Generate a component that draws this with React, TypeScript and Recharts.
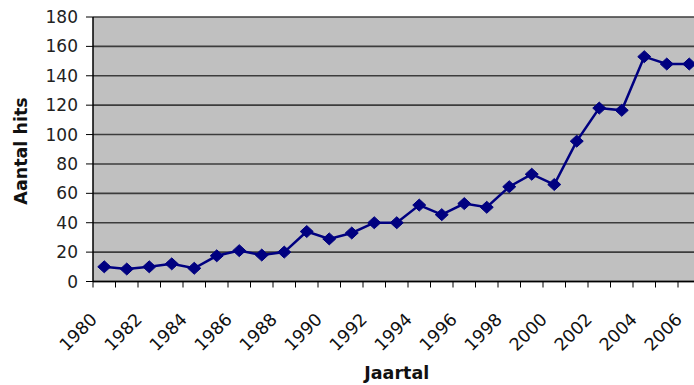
import React from 'react';
import { LineChart, Line, XAxis, YAxis, CartesianGrid } from 'recharts';

const years = ['1980','1981','1982','1983','1984','1985','1986','1987','1988','1989','1990','1991','1992','1993','1994','1995','1996','1997','1998','1999','2000','2001','2002','2003','2004','2005','2006'];
const hits = [10, 8.5, 10, 12, 9, 17.5, 21, 18, 20, 34, 29, 33, 40, 40, 52, 45.5, 53, 50.5, 64.5, 73, 66, 95.5, 118, 116.5, 153, 148, 148];
const yTicks = [0, 20, 40, 60, 80, 100, 120, 140, 160, 180];

const data = years.map((year, i) => ({ i, year, hits: hits[i] }));
// ticks at category centres (labels) and category boundaries (tick marks)
const xTicks: number[] = [];
for (let k = 0; k <= years.length; k++) {
  xTicks.push(k - 0.5);
  if (k < years.length) xTicks.push(k);
}

const FONT = 'DejaVu Sans';

const XTick = (props: any) => {
  const { x, y, payload } = props;
  const v = payload.value as number;
  if (!Number.isInteger(v)) {
    return <line x1={x} x2={x} y1={y} y2={y + 6} stroke="#000" strokeWidth={1} />;
  }
  if (v % 2 !== 0) return <g />;
  const ax = x - 6;
  const ay = y + 39;
  return (
    <text x={ax} y={ay} transform={`rotate(-45 ${ax} ${ay})`} textAnchor="end" fontSize={17.5} fontFamily={FONT} fill="#111">
      {years[v]}
    </text>
  );
};

const Diamond = (props: any) => {
  const { cx, cy, index } = props;
  if (cx == null || cy == null) return <g key={index} />;
  const w = 6.5, h = 6;
  return (
    <polygon key={index} points={`${cx},${cy - h} ${cx + w},${cy} ${cx},${cy + h} ${cx - w},${cy}`} fill="#000080" stroke="#000080" strokeWidth={1} />
  );
};

export default function App() {
  return (
    <div style={{ position: 'absolute', left: 0, top: 0, width: 694, height: 385, overflow: 'hidden', background: '#fff', fontFamily: FONT }}>
      <LineChart width={710} height={385} data={data} margin={{ top: 17, right: 9.5, left: 0, bottom: 0 }}>
        <CartesianGrid vertical={false} fill="#c0c0c0" stroke="#3c3c3c" strokeWidth={1.6} fillOpacity={1} />
        <XAxis
          dataKey="i"
          type="number"
          domain={[-0.5, years.length - 0.5]}
          ticks={xTicks}
          interval={0}
          tick={<XTick />}
          tickLine={false}
          tickSize={0}
          tickMargin={0}
          axisLine={{ stroke: '#000', strokeWidth: 1.5 }}
          height={103.5}
          label={({ viewBox }: any) => (
            <text x={viewBox.x + viewBox.width / 2} y={378.5} textAnchor="middle" fontSize={17.5} fontWeight="bold" fontFamily={FONT} fill="#111">
              Jaartal
            </text>
          )}
        />
        <YAxis
          domain={[0, 180]}
          ticks={yTicks}
          interval={0}
          width={93}
          tickSize={7}
          tickMargin={8}
          tick={{ fontSize: 17, fill: '#222', fontFamily: FONT }}
          tickLine={{ stroke: '#000', strokeWidth: 1 }}
          axisLine={{ stroke: '#000', strokeWidth: 1.5 }}
          label={() => (
            <text x={21} y={151} transform="rotate(-90 21 151)" textAnchor="middle" dominantBaseline="central" fontSize={17.5} fontWeight="bold" fontFamily={FONT} fill="#111">
              Aantal hits
            </text>
          )}
        />
        <Line
          type="linear"
          dataKey="hits"
          stroke="#000080"
          strokeWidth={2.5}
          dot={<Diamond />}
          activeDot={false}
          isAnimationActive={false}
        />
      </LineChart>
    </div>
  );
}
